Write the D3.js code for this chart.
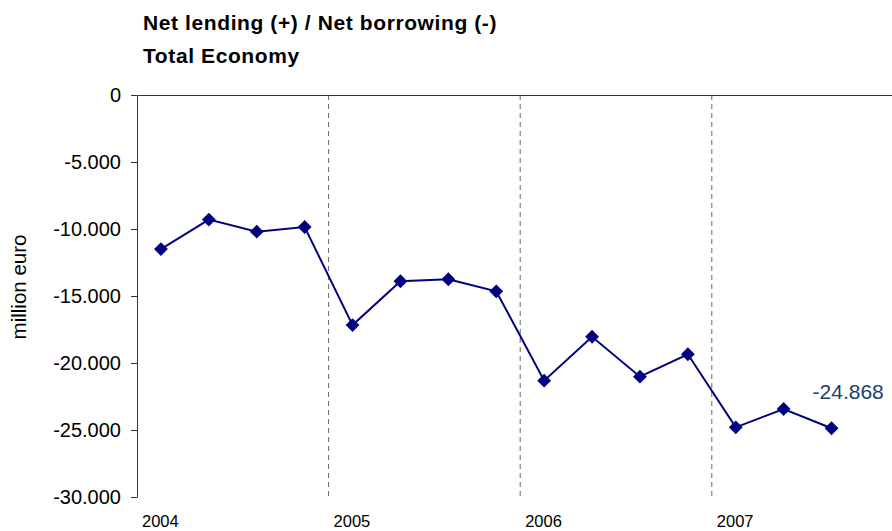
<!DOCTYPE html>
<html>
<head>
<meta charset="utf-8">
<script src="https://cdn.jsdelivr.net/npm/d3@7"></script>
<style>
  body { margin: 0; background: #fff; }
  text { font-family: Arial, "Liberation Sans", sans-serif; }
</style>
</head>
<body>
<script>
/* data */
const quarters = [
  "2004Q1", "2004Q2", "2004Q3", "2004Q4",
  "2005Q1", "2005Q2", "2005Q3", "2005Q4",
  "2006Q1", "2006Q2", "2006Q3", "2006Q4",
  "2007Q1", "2007Q2", "2007Q3", "2007Q4"
];
const values = [
  -11500, -9300, -10200, -9850,
  -17170, -13900, -13750, -14650,
  -21320, -18040, -21020, -19350,
  -24800, -23430, -24868, null
];
const years = ["2004", "2005", "2006", "2007"];
const yTicks = [0, -5000, -10000, -15000, -20000, -25000, -30000];
const titleLines = ["Net lending (+) / Net borrowing (-)", "Total Economy"];
const yTitle = "million euro";

/* sizes */
let width = 892;
let height = 531;
let plotLeft = 137;
let plotTop = 95;
let plotBottom = 497;
let quarterWidth = 47.9;

let svg = d3.select("body").append("svg")
  .attr("width", width)
  .attr("height", height);

let fmt = d3.formatLocale({ decimal: ",", thousands: ".", grouping: [3], currency: ["", ""], minus: "-" }).format(",d");

/* scales */
let x = d3.scaleBand()
  .domain(quarters)
  .range([plotLeft, plotLeft + quarters.length * quarterWidth]);
let y = d3.scaleLinear()
  .domain([-30000, 0])
  .range([plotBottom, plotTop]);

/* title */
svg.append("g").selectAll("text")
  .data(titleLines)
  .join("text")
  .attr("x", 143)
  .attr("y", (d, i) => 30 + i * 33)
  .attr("font-size", 21)
  .attr("font-weight", "bold")
  .attr("letter-spacing", 0.6)
  .attr("fill", "#000")
  .text(d => d);

/* year gridlines (dashed) */
let yearStarts = years.map((yr, i) => quarters[i * 4]);
svg.append("g").selectAll("line")
  .data(yearStarts.slice(1).concat(["end"]))
  .join("line")
  .attr("x1", d => d === "end" ? x.range()[1] : x(d))
  .attr("x2", d => d === "end" ? x.range()[1] : x(d))
  .attr("y1", y(0))
  .attr("y2", y(-30000))
  .attr("stroke", "#666")
  .attr("stroke-width", 1)
  .attr("stroke-dasharray", "5,4");

/* category axis at zero (top) */
svg.append("line")
  .attr("x1", plotLeft + 0.5)
  .attr("x2", x.range()[1])
  .attr("y1", Math.round(y(0)) + 0.5)
  .attr("y2", Math.round(y(0)) + 0.5)
  .attr("stroke", "#333")
  .attr("stroke-width", 1);

/* y axis */
let axisY = d3.axisLeft(y)
  .tickValues(yTicks)
  .tickSize(6)
  .tickSizeOuter(0)
  .tickPadding(10)
  .tickFormat(fmt);

let gy = svg.append("g")
  .attr("transform", "translate(" + plotLeft + ",0)")
  .call(axisY);
gy.select(".domain").attr("stroke", "#333");
gy.selectAll(".tick line").attr("stroke", "#333");
gy.selectAll(".tick text")
  .attr("font-size", 20)
  .attr("fill", "#000")
  .style("font-family", "Arial, 'Liberation Sans', sans-serif");

/* y title */
svg.append("text")
  .attr("transform", "translate(26,287) rotate(-90)")
  .attr("text-anchor", "middle")
  .attr("font-size", 20.5)
  .attr("fill", "#000")
  .text(yTitle);

/* year labels */
svg.append("g").selectAll("text")
  .data(years)
  .join("text")
  .attr("x", (d, i) => x(quarters[i * 4]) + 5)
  .attr("y", 527)
  .attr("font-size", 16.5)
  .attr("fill", "#000")
  .text(d => d);

/* series */
let points = quarters.map((q, i) => ({ q: q, v: values[i] }));
let line = d3.line()
  .defined(d => d.v !== null)
  .x(d => x(d.q) + x.bandwidth() / 2)
  .y(d => y(d.v));

svg.append("path")
  .datum(points)
  .attr("fill", "none")
  .attr("stroke", "#000080")
  .attr("stroke-width", 2)
  .attr("d", line);

svg.append("g").selectAll("path")
  .data(points.filter(d => d.v !== null))
  .join("path")
  .attr("d", d3.symbol(d3.symbolSquare, 96))
  .attr("transform", d => "translate(" + (x(d.q) + x.bandwidth() / 2) + "," + y(d.v) + ") rotate(45)")
  .attr("fill", "#000080");

/* label on last value */
let last = points.filter(d => d.v !== null).pop();
svg.append("text")
  .attr("x", x(last.q) + x.bandwidth() / 2 - 19)
  .attr("y", y(last.v) - 29)
  .attr("font-size", 21)
  .attr("fill", "#17406D")
  .text(fmt(last.v));
</script>
</body>
</html>
